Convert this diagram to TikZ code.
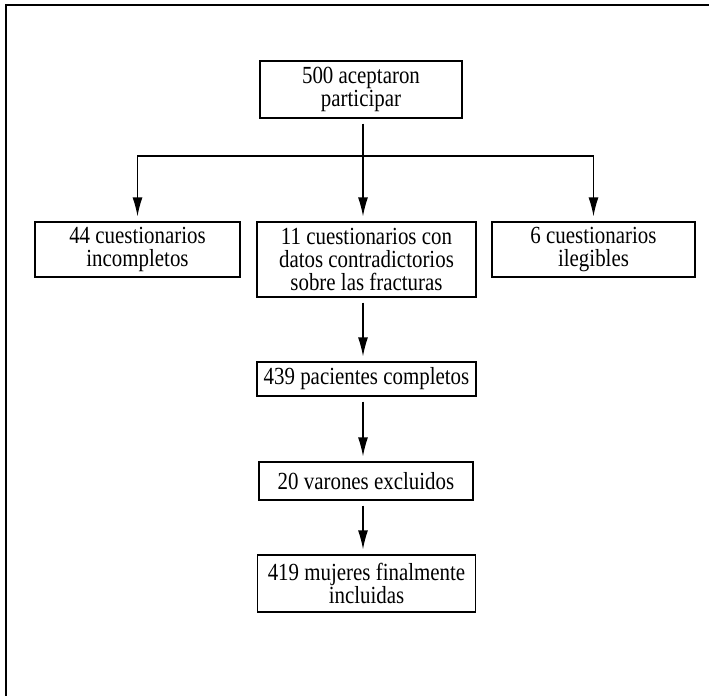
\documentclass[tikz,border=0pt]{standalone}
\usepackage{fontspec}
\setmainfont{Liberation Serif}[FakeStretch = 0.85]
\usetikzlibrary{arrows.meta, calc}

\tikzset{
	stagebox/.style = {draw, line width = 0.6pt, align = center, inner sep = 0pt,
		font = \fontsize{12.3}{11.3}\selectfont},
	flowarrow/.style = {line width = 0.65pt, -{Latex[length = 9.5pt, width = 5pt]}, shorten > = 2.5pt}
}

\begin{document}
\begin{tikzpicture}[x = 0.5pt, y = -0.5pt]
		%page size
		\useasboundingbox (0,0) rectangle (709,696);
		
		%frame
		\coordinate (frame corner) at (6,5);
		\draw [line width = 1.4pt] (709,5) -- (frame corner) -- (6,696);
		
		%boxes
		\node [stagebox, minimum width = 101pt, minimum height = 28.5pt] (start) at (361,89.5) {500 aceptaron\\participar};
		\node [stagebox, minimum width = 102.5pt, minimum height = 27.5pt] (incomplete) at (137.5,249.5) {44 cuestionarios\\incompletos};
		\node [stagebox, minimum width = 109.5pt, minimum height = 37.5pt] (contradict) at (366.5,259.5) {11 cuestionarios con\\datos contradictorios\\sobre las fracturas};
		\node [stagebox, minimum width = 101.5pt, minimum height = 27.5pt] (illegible) at (593.5,249.5) {6 cuestionarios\\ilegibles};
		\node [stagebox, minimum width = 109.5pt, minimum height = 17pt] (complete) at (366.5,379) {439 pacientes completos};
		\node [stagebox, minimum width = 107pt, minimum height = 19pt] (men) at (366,481) {20 varones excluidos};
		\node [stagebox, minimum width = 109pt, minimum height = 28.5pt] (women) at (366.5,583.5) {419 mujeres finalmente\\incluidas};
		
		%split line
		\coordinate (split) at (363,156);
		\draw [line width = 0.65pt] (incomplete.north |- split) -- (illegible.north |- split);
		
		%arrows
		\draw [flowarrow, shorten < = 2.5pt] (start.south -| split) -- (split |- contradict.north);
		\draw [flowarrow] (split) -| (incomplete.north);
		\draw [flowarrow] (split) -| (illegible.north);
		\draw [flowarrow, shorten < = 2.5pt] (split |- contradict.south) -- (split |- complete.north);
		\draw [flowarrow, shorten < = 2.5pt] (split |- complete.south) -- (split |- men.north);
		\draw [flowarrow, shorten < = 2.5pt] (split |- men.south) -- (split |- women.north);
	\end{tikzpicture}
\end{document}
